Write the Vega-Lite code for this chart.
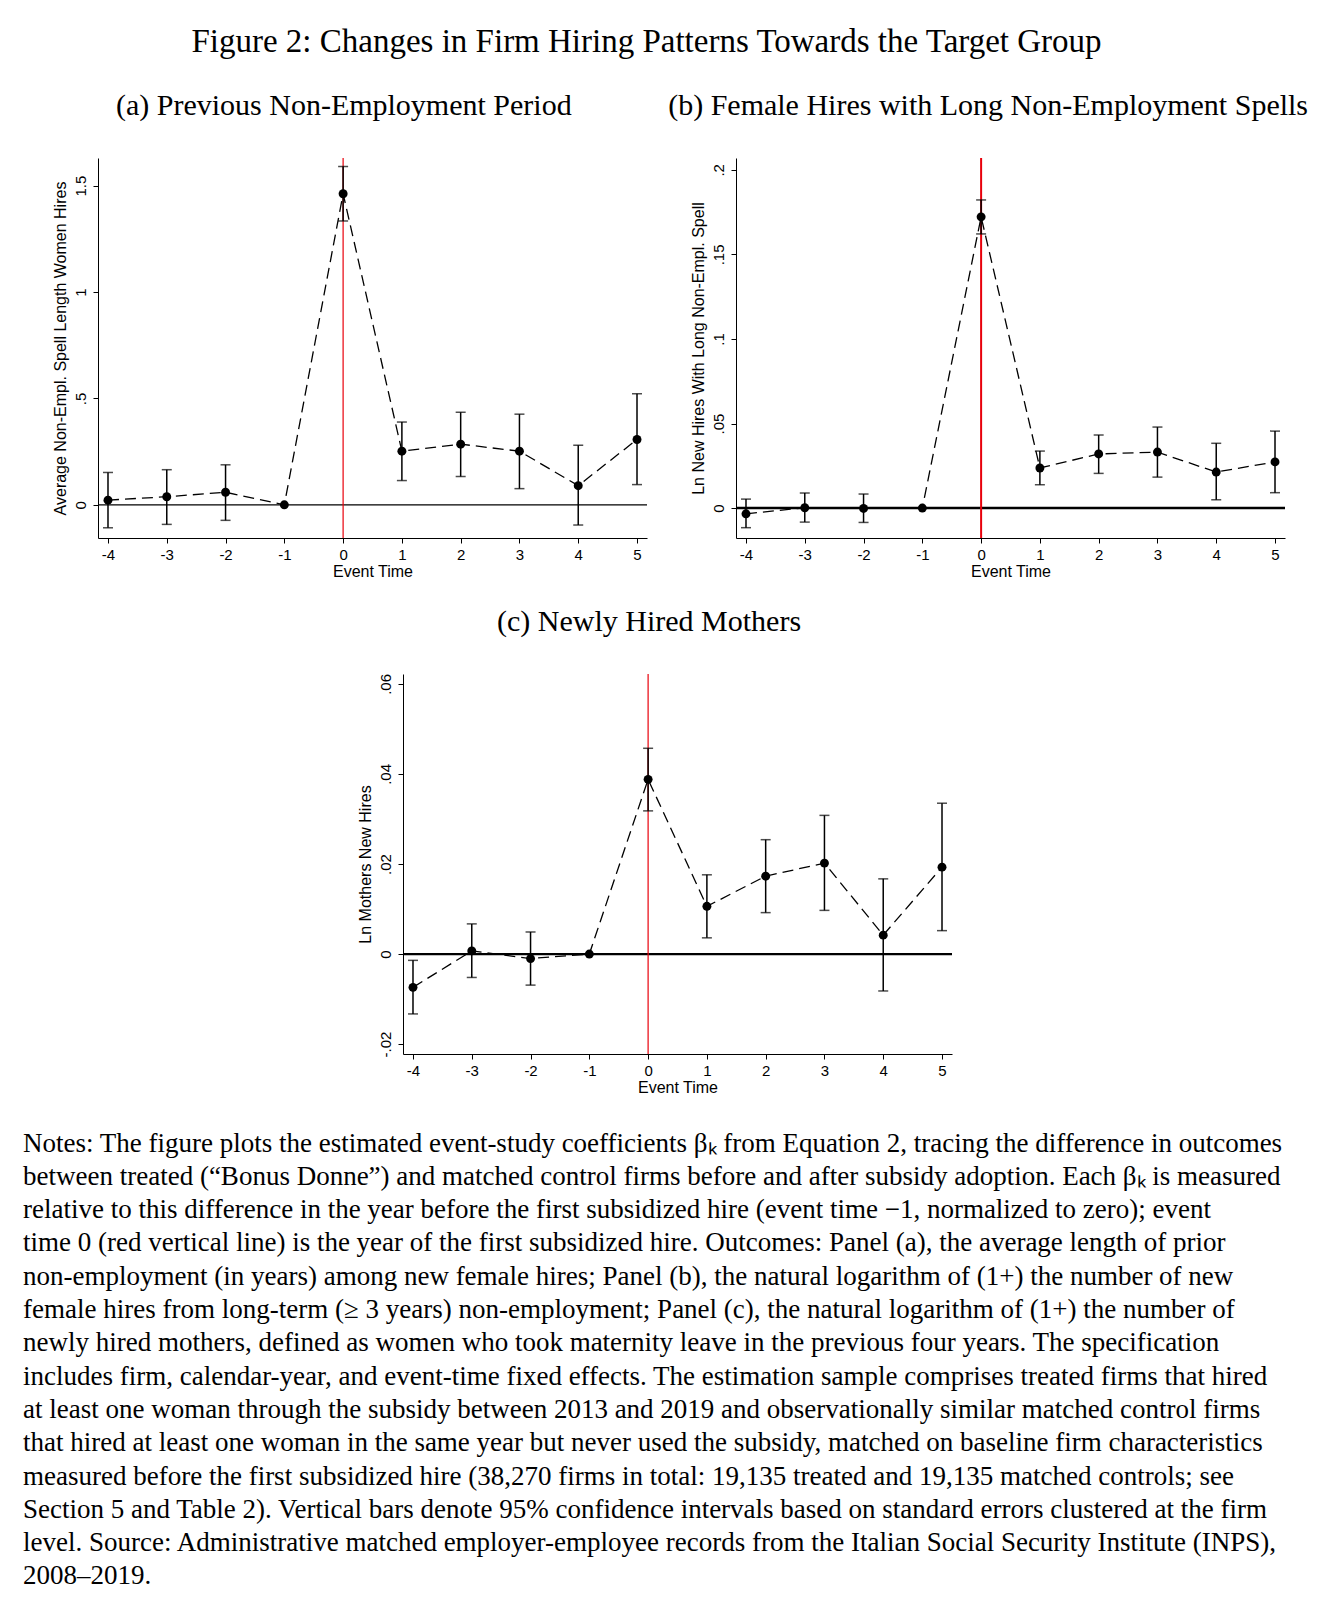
{
  "$schema": "https://vega.github.io/schema/vega-lite/v6.json",
  "background": "white",
  "padding": {"left": 23, "top": 26, "right": 5, "bottom": 5},
  "title": {
    "text": "Figure 2: Changes in Firm Hiring Patterns Towards the Target Group",
    "font": "Liberation Serif",
    "fontSize": 33,
    "fontWeight": "normal",
    "color": "black",
    "anchor": "middle",
    "dx": -19,
    "offset": 32
  },
  "datasets": {
    "a": [
      {"t": -4, "b": 0.022, "lo": -0.108, "hi": 0.152},
      {"t": -3, "b": 0.038, "lo": -0.092, "hi": 0.165},
      {"t": -2, "b": 0.059, "lo": -0.073, "hi": 0.188},
      {"t": -1, "b": 0, "lo": null, "hi": null},
      {"t": 0, "b": 1.462, "lo": 1.334, "hi": 1.590},
      {"t": 1, "b": 0.252, "lo": 0.114, "hi": 0.389},
      {"t": 2, "b": 0.285, "lo": 0.133, "hi": 0.435},
      {"t": 3, "b": 0.252, "lo": 0.076, "hi": 0.426},
      {"t": 4, "b": 0.090, "lo": -0.095, "hi": 0.280},
      {"t": 5, "b": 0.307, "lo": 0.095, "hi": 0.522}
    ],
    "b": [
      {"t": -4, "b": -0.0034, "lo": -0.0116, "hi": 0.0053},
      {"t": -3, "b": 0.0002, "lo": -0.0083, "hi": 0.0089},
      {"t": -2, "b": -0.0002, "lo": -0.0085, "hi": 0.0083},
      {"t": -1, "b": 0, "lo": null, "hi": null},
      {"t": 0, "b": 0.1722, "lo": 0.1621, "hi": 0.1822},
      {"t": 1, "b": 0.0237, "lo": 0.0138, "hi": 0.0337},
      {"t": 2, "b": 0.0320, "lo": 0.0205, "hi": 0.0432},
      {"t": 3, "b": 0.0331, "lo": 0.0183, "hi": 0.0479},
      {"t": 4, "b": 0.0213, "lo": 0.0049, "hi": 0.0383},
      {"t": 5, "b": 0.0273, "lo": 0.0091, "hi": 0.0455}
    ],
    "c": [
      {"t": -4, "b": -0.0074, "lo": -0.0133, "hi": -0.0014},
      {"t": -3, "b": 0.0007, "lo": -0.0052, "hi": 0.0067},
      {"t": -2, "b": -0.0010, "lo": -0.0069, "hi": 0.0049},
      {"t": -1, "b": 0, "lo": null, "hi": null},
      {"t": 0, "b": 0.0388, "lo": 0.0318, "hi": 0.0457},
      {"t": 1, "b": 0.0106, "lo": 0.0036, "hi": 0.0176},
      {"t": 2, "b": 0.0173, "lo": 0.0092, "hi": 0.0254},
      {"t": 3, "b": 0.0202, "lo": 0.0097, "hi": 0.0308},
      {"t": 4, "b": 0.0042, "lo": -0.0082, "hi": 0.0167},
      {"t": 5, "b": 0.0193, "lo": 0.0052, "hi": 0.0335}
    ]
  },
  "vconcat": [
    {
      "vconcat": [
        {
          "hconcat": [
            {
              "width": 29,
              "height": 1,
              "data": {"values": [{}]},
              "mark": {"type": "text"},
              "encoding": {"text": {"value": ""}}
            },
            {
              "hconcat": [
                {
                  "width": 549,
                  "height": 380,
                  "title": {"text": "(a) Previous Non-Employment Period", "dx": -6},
                  "data": {"name": "a"},
                  "layer": [
                    {
                      "data": {"values": [{}]},
                      "mark": {"type": "rule", "color": "black", "strokeWidth": 1.2},
                      "encoding": {
                        "y": {"datum": 0, "type": "quantitative", "title": "Average Non-Empl. Spell Length Women Hires", "scale": {"domain": [-0.156, 1.63], "nice": false, "zero": false}}
                      }
                    },
                    {
                      "data": {"values": [{}]},
                      "mark": {"type": "rule", "color": "#e8000b", "strokeWidth": 1.2},
                      "encoding": {
                        "x": {"datum": 0, "type": "quantitative", "title": "Event Time", "scale": {"domain": [-4.17, 5.17], "nice": false, "zero": false}}
                      }
                    },
                    {
                      "mark": {"type": "line", "color": "black", "strokeWidth": 1.3, "strokeDash": [11, 6]},
                      "encoding": {
                        "x": {"field": "t", "type": "quantitative", "title": "Event Time", "scale": {"domain": [-4.17, 5.17], "nice": false, "zero": false},
                          "axis": {"values": [-4, -3, -2, -1, 0, 1, 2, 3, 4, 5], "format": "d", "grid": false, "labelExpr": "replace(datum.label, '−', '-')"}},
                        "y": {"field": "b", "type": "quantitative", "title": "Average Non-Empl. Spell Length Women Hires", "scale": {"domain": [-0.156, 1.63], "nice": false, "zero": false},
                          "axis": {"values": [0, 0.5, 1, 1.5], "format": "~g", "labelExpr": "replace(replace(datum.label, '0.', '.'), '−', '-')"}}
                      }
                    },
                    {
                      "mark": {"type": "rule", "color": "black", "strokeWidth": 1.5},
                      "encoding": {
                        "x": {"field": "t", "type": "quantitative", "title": "Event Time"},
                        "y": {"field": "lo", "type": "quantitative", "title": "Average Non-Empl. Spell Length Women Hires"},
                        "y2": {"field": "hi"}
                      }
                    },
                    {
                      "mark": {"type": "tick", "orient": "horizontal", "color": "black", "size": 10, "thickness": 1.5},
                      "encoding": {
                        "x": {"field": "t", "type": "quantitative", "title": "Event Time"},
                        "y": {"field": "lo", "type": "quantitative", "title": "Average Non-Empl. Spell Length Women Hires"}
                      }
                    },
                    {
                      "mark": {"type": "tick", "orient": "horizontal", "color": "black", "size": 10, "thickness": 1.5},
                      "encoding": {
                        "x": {"field": "t", "type": "quantitative", "title": "Event Time"},
                        "y": {"field": "hi", "type": "quantitative", "title": "Average Non-Empl. Spell Length Women Hires"}
                      }
                    },
                    {
                      "mark": {"type": "point", "filled": true, "color": "black", "opacity": 1, "size": 80},
                      "encoding": {
                        "x": {"field": "t", "type": "quantitative", "title": "Event Time"},
                        "y": {"field": "b", "type": "quantitative", "title": "Average Non-Empl. Spell Length Women Hires"}
                      }
                    }
                  ]
                },
                {
                  "width": 549,
                  "height": 380,
                  "title": {"text": "(b) Female Hires with Long Non-Employment Spells"},
                  "data": {"name": "b"},
                  "layer": [
                    {
                      "data": {"values": [{}]},
                      "mark": {"type": "rule", "color": "black", "strokeWidth": 2.4},
                      "encoding": {
                        "y": {"datum": 0, "type": "quantitative", "title": "Ln New Hires With Long Non-Empl. Spell", "scale": {"domain": [-0.0177, 0.207], "nice": false, "zero": false}}
                      }
                    },
                    {
                      "data": {"values": [{}]},
                      "mark": {"type": "rule", "color": "#e8000b", "strokeWidth": 2},
                      "encoding": {
                        "x": {"datum": 0, "type": "quantitative", "title": "Event Time", "scale": {"domain": [-4.17, 5.17], "nice": false, "zero": false}}
                      }
                    },
                    {
                      "mark": {"type": "line", "color": "black", "strokeWidth": 1.3, "strokeDash": [11, 6]},
                      "encoding": {
                        "x": {"field": "t", "type": "quantitative", "title": "Event Time", "scale": {"domain": [-4.17, 5.17], "nice": false, "zero": false},
                          "axis": {"values": [-4, -3, -2, -1, 0, 1, 2, 3, 4, 5], "format": "d", "grid": false, "labelExpr": "replace(datum.label, '−', '-')"}},
                        "y": {"field": "b", "type": "quantitative", "title": "Ln New Hires With Long Non-Empl. Spell", "scale": {"domain": [-0.0177, 0.207], "nice": false, "zero": false},
                          "axis": {"values": [0, 0.05, 0.1, 0.15, 0.2], "format": "~g", "labelExpr": "replace(replace(datum.label, '0.', '.'), '−', '-')"}}
                      }
                    },
                    {
                      "mark": {"type": "rule", "color": "black", "strokeWidth": 1.5},
                      "encoding": {
                        "x": {"field": "t", "type": "quantitative", "title": "Event Time"},
                        "y": {"field": "lo", "type": "quantitative", "title": "Ln New Hires With Long Non-Empl. Spell"},
                        "y2": {"field": "hi"}
                      }
                    },
                    {
                      "mark": {"type": "tick", "orient": "horizontal", "color": "black", "size": 10, "thickness": 1.5},
                      "encoding": {
                        "x": {"field": "t", "type": "quantitative", "title": "Event Time"},
                        "y": {"field": "lo", "type": "quantitative", "title": "Ln New Hires With Long Non-Empl. Spell"}
                      }
                    },
                    {
                      "mark": {"type": "tick", "orient": "horizontal", "color": "black", "size": 10, "thickness": 1.5},
                      "encoding": {
                        "x": {"field": "t", "type": "quantitative", "title": "Event Time"},
                        "y": {"field": "hi", "type": "quantitative", "title": "Ln New Hires With Long Non-Empl. Spell"}
                      }
                    },
                    {
                      "mark": {"type": "point", "filled": true, "color": "black", "opacity": 1, "size": 80},
                      "encoding": {
                        "x": {"field": "t", "type": "quantitative", "title": "Event Time"},
                        "y": {"field": "b", "type": "quantitative", "title": "Ln New Hires With Long Non-Empl. Spell"}
                      }
                    }
                  ]
                }
              ],
              "spacing": 20
            }
          ],
          "spacing": 0
        },
        {
          "hconcat": [
            {
              "width": 334,
              "height": 1,
              "data": {"values": [{}]},
              "mark": {"type": "text"},
              "encoding": {"text": {"value": ""}}
            },
            {
              "width": 549,
              "height": 380,
              "title": {"text": "(c) Newly Hired Mothers", "dx": -6},
              "data": {"name": "c"},
              "layer": [
                {
                  "data": {"values": [{}]},
                  "mark": {"type": "rule", "color": "black", "strokeWidth": 2.2},
                  "encoding": {
                    "y": {"datum": 0, "type": "quantitative", "title": "Ln Mothers New Hires", "scale": {"domain": [-0.0222, 0.0622], "nice": false, "zero": false}}
                  }
                },
                {
                  "data": {"values": [{}]},
                  "mark": {"type": "rule", "color": "#e8000b", "strokeWidth": 1.2},
                  "encoding": {
                    "x": {"datum": 0, "type": "quantitative", "title": "Event Time", "scale": {"domain": [-4.17, 5.17], "nice": false, "zero": false}}
                  }
                },
                {
                  "mark": {"type": "line", "color": "black", "strokeWidth": 1.3, "strokeDash": [11, 6]},
                  "encoding": {
                    "x": {"field": "t", "type": "quantitative", "title": "Event Time", "scale": {"domain": [-4.17, 5.17], "nice": false, "zero": false},
                      "axis": {"values": [-4, -3, -2, -1, 0, 1, 2, 3, 4, 5], "format": "d", "grid": false, "labelExpr": "replace(datum.label, '−', '-')"}},
                    "y": {"field": "b", "type": "quantitative", "title": "Ln Mothers New Hires", "scale": {"domain": [-0.0222, 0.0622], "nice": false, "zero": false},
                      "axis": {"values": [-0.02, 0, 0.02, 0.04, 0.06], "format": "~g", "labelExpr": "replace(replace(datum.label, '0.', '.'), '−', '-')"}}
                  }
                },
                {
                  "mark": {"type": "rule", "color": "black", "strokeWidth": 1.5},
                  "encoding": {
                    "x": {"field": "t", "type": "quantitative", "title": "Event Time"},
                    "y": {"field": "lo", "type": "quantitative", "title": "Ln Mothers New Hires"},
                    "y2": {"field": "hi"}
                  }
                },
                {
                  "mark": {"type": "tick", "orient": "horizontal", "color": "black", "size": 10, "thickness": 1.5},
                  "encoding": {
                    "x": {"field": "t", "type": "quantitative", "title": "Event Time"},
                    "y": {"field": "lo", "type": "quantitative", "title": "Ln Mothers New Hires"}
                  }
                },
                {
                  "mark": {"type": "tick", "orient": "horizontal", "color": "black", "size": 10, "thickness": 1.5},
                  "encoding": {
                    "x": {"field": "t", "type": "quantitative", "title": "Event Time"},
                    "y": {"field": "hi", "type": "quantitative", "title": "Ln Mothers New Hires"}
                  }
                },
                {
                  "mark": {"type": "point", "filled": true, "color": "black", "opacity": 1, "size": 80},
                  "encoding": {
                    "x": {"field": "t", "type": "quantitative", "title": "Event Time"},
                    "y": {"field": "b", "type": "quantitative", "title": "Ln Mothers New Hires"}
                  }
                }
              ]
            }
          ],
          "spacing": 0
        }
      ],
      "spacing": 28
    },
    {
      "width": 1254,
      "height": 1,
      "data": {"values": [{}]},
      "mark": {"type": "text"},
      "encoding": {"text": {"value": ""}},
      "title": {
        "text": [
          "Notes: The figure plots the estimated event-study coefficients βₖ from Equation 2, tracing the difference in outcomes",
          "between treated (“Bonus Donne”) and matched control firms before and after subsidy adoption. Each βₖ is measured",
          "relative to this difference in the year before the first subsidized hire (event time −1, normalized to zero); event",
          "time 0 (red vertical line) is the year of the first subsidized hire. Outcomes: Panel (a), the average length of prior",
          "non-employment (in years) among new female hires; Panel (b), the natural logarithm of (1+) the number of new",
          "female hires from long-term (≥ 3 years) non-employment; Panel (c), the natural logarithm of (1+) the number of",
          "newly hired mothers, defined as women who took maternity leave in the previous four years. The specification",
          "includes firm, calendar-year, and event-time fixed effects. The estimation sample comprises treated firms that hired",
          "at least one woman through the subsidy between 2013 and 2019 and observationally similar matched control firms",
          "that hired at least one woman in the same year but never used the subsidy, matched on baseline firm characteristics",
          "measured before the first subsidized hire (38,270 firms in total: 19,135 treated and 19,135 matched controls; see",
          "Section 5 and Table 2). Vertical bars denote 95% confidence intervals based on standard errors clustered at the firm",
          "level. Source: Administrative matched employer-employee records from the Italian Social Security Institute (INPS),",
          "2008–2019."
        ],
        "anchor": "start",
        "frame": "group",
        "font": "Liberation Serif",
        "fontSize": 27,
        "fontWeight": "normal",
        "lineHeight": 33.3,
        "color": "black",
        "offset": 0
      }
    }
  ],
  "spacing": 34,
  "center": false,
  "config": {
    "view": {"stroke": null},
    "title": {
      "font": "Liberation Serif",
      "fontSize": 30,
      "fontWeight": "normal",
      "color": "black",
      "anchor": "middle",
      "frame": "bounds",
      "offset": 36
    },
    "axis": {
      "domainColor": "black",
      "domainWidth": 1,
      "tickColor": "black",
      "tickWidth": 1,
      "tickSize": 5,
      "labelColor": "black",
      "labelFont": "Liberation Sans",
      "labelFontSize": 15,
      "titleColor": "black",
      "titleFont": "Liberation Sans",
      "titleFontSize": 16,
      "titleFontWeight": "normal",
      "gridColor": "#e6e6e6",
      "gridWidth": 1
    },
    "axisX": {"labelPadding": 4, "titlePadding": 1},
    "axisY": {"labelAngle": -90, "labelPadding": 5, "titlePadding": 5}
  }
}
